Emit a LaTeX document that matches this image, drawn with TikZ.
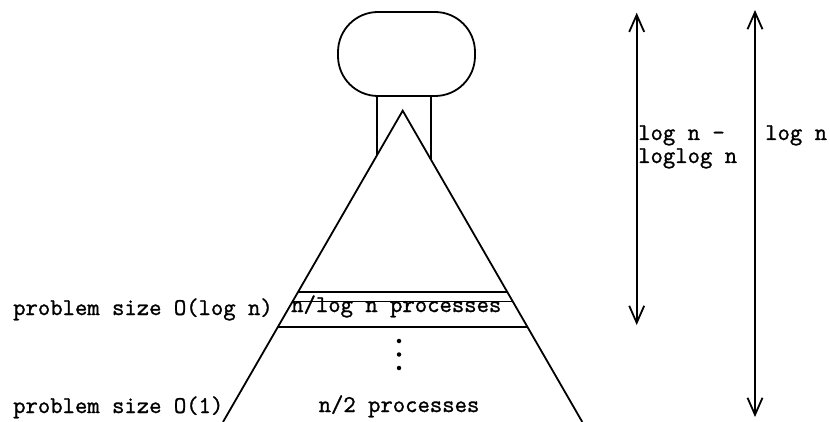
\documentclass[tikz,border=0pt]{standalone}
\usepackage{fontspec}
\newfontfamily\twfont{Latin Modern Mono}[FakeBold=1.2]
\usetikzlibrary{arrows.meta,calc}
\begin{document}
\begin{tikzpicture}[x=1pt,y=-1pt,
  ln/.style={line width=1.8pt},
  thin/.style={line width=1.4pt},
  lbl/.style={inner sep=0pt,font=\twfont\fontsize{24}{26}\selectfont},
  dbl/.style={line width=1.8pt,{Straight Barb[length=17pt,width=15pt]}-{Straight Barb[length=17pt,width=15pt]}},
  dot/.style={circle,fill=black,inner sep=0pt,minimum size=4.5pt}]
\useasboundingbox (0,0) rectangle (830,422);
% head (stadium)
\draw[ln,rounded corners=40pt] (338,12) rectangle (475,96);
% stem
\coordinate (sl) at (377,96);
\coordinate (sr) at (431,96);
\coordinate (slb) at (377,155.2);
\coordinate (srb) at (431,159.8);
\draw[ln] (sl) -- (slb);
\draw[ln] (sr) -- (srb);
% triangle
\coordinate (apex) at (402.7,110.7);
\coordinate (bl) at (223,422);
\coordinate (br) at (582.3,422);
\draw[ln] (bl) -- (apex) -- (br);
% horizontal levels
\foreach \n/\y in {a/292,b/327,c/385}{
  \pgfmathsetmacro{\t}{(\y-110.7)/311.3}
  \coordinate (\n l) at ($(apex)!\t!(bl)$);
  \coordinate (\n r) at ($(apex)!\t!(br)$);
  \draw[thin] (\n l) -- (\n r);
}
% texts
\node[lbl,anchor=base west] (t1) at (291,312) {n/log n processes};
\node[lbl,anchor=base] (t2) at (399,412) {n/2 processes};
\node[lbl,anchor=base west] (p1) at (13,315) {problem size O(log n)};
\node[lbl,anchor=base west] (p2) at (13,413) {problem size O(1)};
\node[dot] (d1) at (399,341) {};
\node[dot] (d2) at (399,354.5) {};
\node[dot] (d3) at (399,368) {};
% arrows
\coordinate (a1t) at (636.7,12.7);
\coordinate (a1b) at (636.7,325);
\coordinate (a2t) at (755,10);
\coordinate (a2b) at (755,417);
\draw[dbl] (a1t) -- (a1b);
\draw[dbl] (a2t) -- (a2b);
\node[lbl,anchor=base west] (l1) at (638,140) {log n -};
\node[lbl,anchor=base west] (l2) at (638,163) {loglog n};
\node[lbl,anchor=base west] (l3) at (765,140) {log n};
\end{tikzpicture}
\end{document}
